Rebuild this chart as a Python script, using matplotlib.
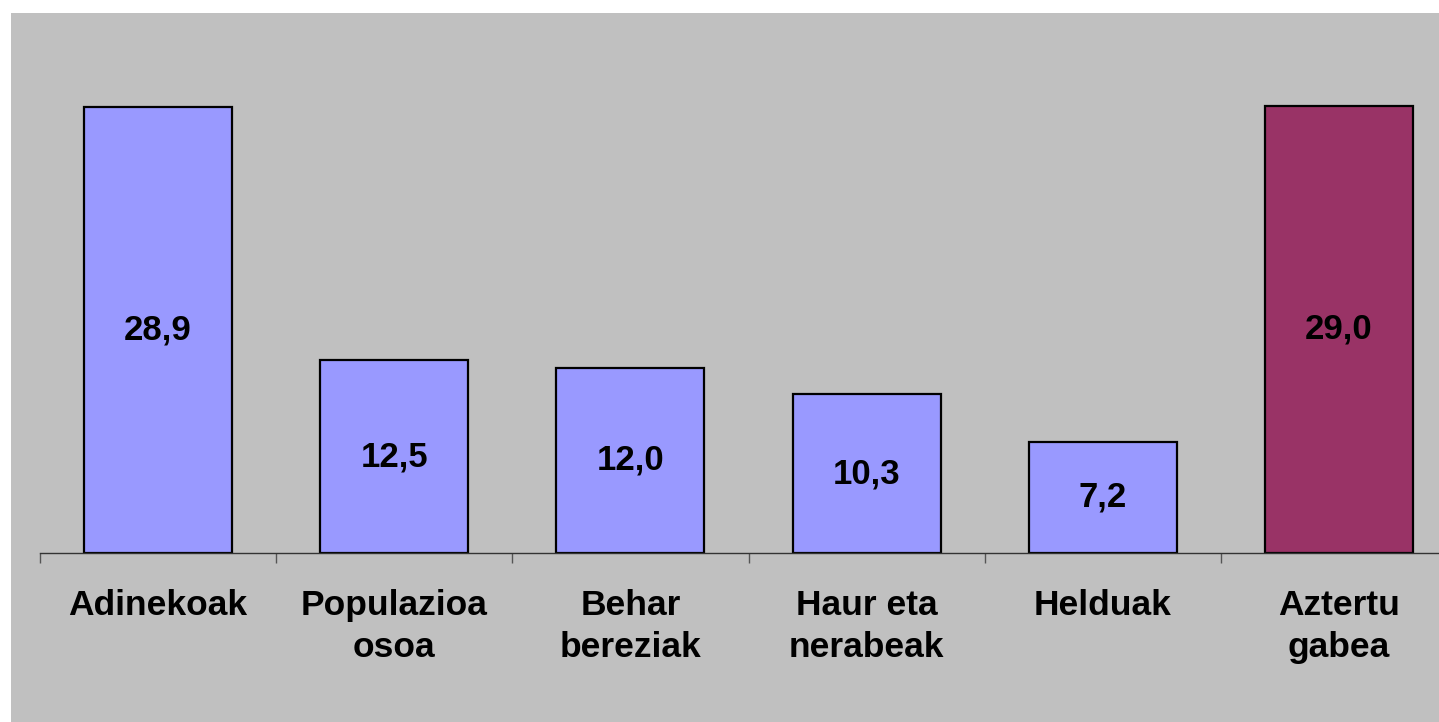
"""
Bar chart of group values with one highlighted category (Aztertu gabea).
"""

import matplotlib.pyplot as plt
from matplotlib.patches import Rectangle


CATEGORIES = [
    "Adinekoak",
    "Populazioa\nosoa",
    "Behar\nbereziak",
    "Haur eta\nnerabeak",
    "Helduak",
    "Aztertu\ngabea",
]
VALUES = [28.9, 12.5, 12.0, 10.3, 7.2, 29.0]
VALUE_LABELS = ["28,9", "12,5", "12,0", "10,3", "7,2", "29,0"]
BAR_COLORS = ["#9999FF"] * 5 + ["#993366"]

OUTPUT_PATH = "out.png"


def main() -> None:
    """Draw the chart and save it."""

    plt.rcParams["font.family"] = ["Liberation Sans", "DejaVu Sans"]
    plt.rcParams["font.weight"] = "bold"

    fig = plt.figure(figsize=(14.39, 7.22), dpi=100)
    fig.patch.set_facecolor("white")

    # gray chart area, Excel style
    fig.patches.append(
        Rectangle((11 / 1439, 0), 1, 1 - 13 / 722,
                  transform=fig.transFigure, facecolor="#C0C0C0",
                  edgecolor="none", zorder=-10)
    )

    ax = fig.add_axes([40 / 1439, 169 / 722, 1417 / 1439, 540 / 722])
    ax.set_facecolor("none")

    positions = list(range(len(CATEGORIES)))
    bars = ax.bar(positions, VALUES, width=0.627, color=BAR_COLORS,
                  edgecolor="black", linewidth=1.6)

    for bar, label in zip(bars, VALUE_LABELS):
        ax.text(bar.get_x() + bar.get_width() / 2, bar.get_height() / 2,
                label, ha="center", va="center", fontsize=25,
                fontweight="bold", color="black")

    ax.set_xlim(-0.5, len(CATEGORIES) - 0.5)
    ax.set_ylim(0, 35)

    for side in ("top", "right", "left"):
        ax.spines[side].set_visible(False)
    ax.spines["bottom"].set_color("#333333")
    ax.spines["bottom"].set_linewidth(1.0)

    ax.set_yticks([])
    ax.set_xticks(positions)
    ax.set_xticklabels(CATEGORIES, fontsize=25.5, fontweight="bold",
                       linespacing=1.36)
    ax.tick_params(axis="x", which="major", length=0, pad=26)

    boundaries = [p - 0.5 for p in positions] + [len(CATEGORIES) - 0.5]
    ax.set_xticks(boundaries, minor=True)
    ax.tick_params(axis="x", which="minor", length=7.5, width=1.0,
                   color="#555555", direction="out")

    fig.savefig(OUTPUT_PATH, dpi=100, facecolor=fig.get_facecolor())
    plt.close(fig)


if __name__ == "__main__":
    main()
